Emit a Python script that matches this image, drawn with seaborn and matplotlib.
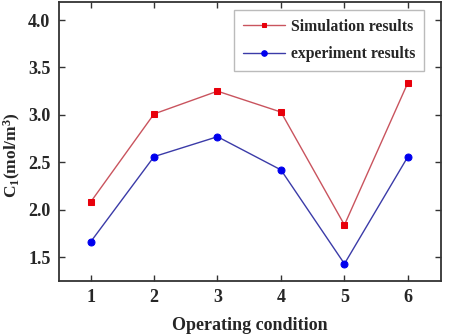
import matplotlib
matplotlib.use("Agg")
import matplotlib.pyplot as plt
import seaborn as sns
import pandas as pd

conditions = [1, 2, 3, 4, 5, 6]
simulation = [2.08, 3.01, 3.25, 3.03, 1.84, 3.34]
experiment = [1.66, 2.56, 2.77, 2.42, 1.43, 2.56]

sns.set_theme(style="ticks")
plt.rcParams['font.family'] = ['Liberation Serif', 'DejaVu Serif']
plt.rcParams['font.weight'] = 'bold'
plt.rcParams['mathtext.fontset'] = 'custom'
plt.rcParams['mathtext.rm'] = 'Liberation Serif:bold'
plt.rcParams['mathtext.it'] = 'Liberation Serif:bold'
plt.rcParams['mathtext.bf'] = 'Liberation Serif:bold'

fig = plt.figure(figsize=(4.49, 3.34), dpi=100)
ax = fig.add_axes([0.131, 0.159, 0.851, 0.835])

df_sim = pd.DataFrame({"x": conditions, "y": simulation})
df_exp = pd.DataFrame({"x": conditions, "y": experiment})

sns.lineplot(data=df_sim, x="x", y="y", ax=ax, color="#c9545e", lw=1.0,
             marker="s", markersize=4.2, markerfacecolor="#e8000b",
             markeredgecolor="#e8000b", label="Simulation results")
sns.lineplot(data=df_exp, x="x", y="y", ax=ax, color="#3b3ba8", lw=1.0,
             marker="o", markersize=5, markerfacecolor="#0000ee",
             markeredgecolor="#0000ee", label="experiment results")

ax.set_xlim(0.5, 6.52)
ax.set_ylim(1.25, 4.19)
ax.set_xticks(conditions)
ax.set_yticks([1.5, 2.0, 2.5, 3.0, 3.5, 4.0])
ax.set_yticklabels(["1.5", "2.0", "2.5", "3.0", "3.5", "4.0"])
ax.tick_params(direction="in", top=True, right=True, length=4, width=1,
               labelsize=13, color="#333333", pad=6)
for lab in ax.get_xticklabels() + ax.get_yticklabels():
    lab.set_fontweight("bold")
for s in ax.spines.values():
    s.set_linewidth(1.3)
    s.set_color("#333333")

ax.set_xlabel("Operating condition", fontsize=13, fontweight="bold", labelpad=8)
ax.set_ylabel("C$_1$(mol/m$^3$)", fontsize=12.5, fontweight="bold")
ax.yaxis.set_label_coords(-0.095, 0.45)

leg = ax.legend(loc="upper right", bbox_to_anchor=(0.955, 0.971), fontsize=11.3,
                frameon=True, fancybox=False, edgecolor="#aaaaaa",
                handlelength=2.7, borderpad=0.55, labelspacing=0.75,
                handletextpad=0.35, markerscale=0.8, borderaxespad=0)
leg.get_frame().set_linewidth(1.0)
for t in leg.get_texts():
    t.set_fontweight("bold")

fig.savefig("out.png", dpi=100)
